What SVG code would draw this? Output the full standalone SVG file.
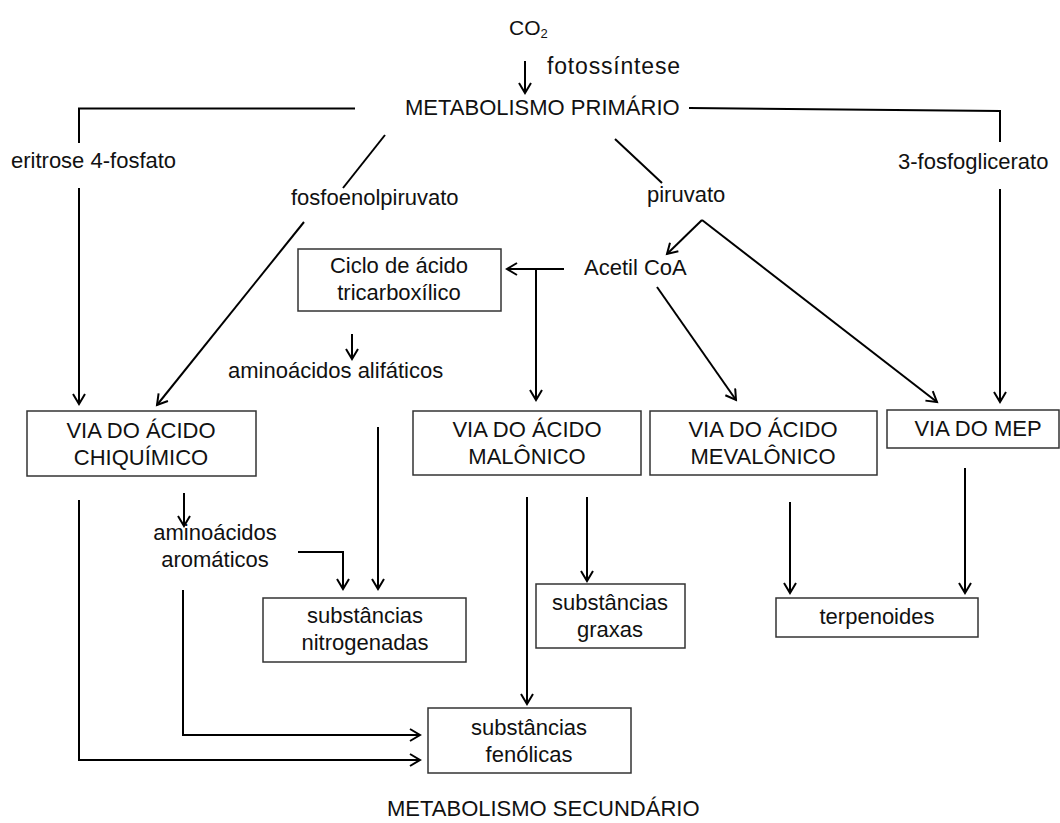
<svg xmlns="http://www.w3.org/2000/svg" width="1060" height="823" viewBox="0 0 1060 823">
<defs>
<marker id="ah" markerUnits="userSpaceOnUse" markerWidth="14" markerHeight="14" refX="11" refY="7" orient="auto">
<path d="M1,1 L11,7 L1,13" fill="none" stroke="#000" stroke-width="2"/>
</marker>
<style>
text{font-family:"Liberation Sans",Arial,sans-serif;font-size:22px;fill:#111}
.c{text-anchor:middle}
.box{fill:#fff;stroke:#333;stroke-width:1.5}
.ln{fill:none;stroke:#000;stroke-width:2}
.ar{fill:none;stroke:#000;stroke-width:2;marker-end:url(#ah)}
</style>
</defs>
<rect width="1060" height="823" fill="#fff"/>
<g id="connectors">
<line class="ar" x1="525" y1="61" x2="525" y2="93"/>
<polyline class="ln" points="355,108.5 79,108.5 79,143"/>
<line class="ar" x1="79" y1="188" x2="79" y2="404"/>
<polyline class="ln" points="689,108 1000,111 1000,142"/>
<line class="ar" x1="1000" y1="189" x2="1000" y2="402"/>
<line class="ln" x1="385" y1="135" x2="343" y2="188"/>
<line class="ar" x1="304" y1="222" x2="157" y2="405"/>
<line class="ln" x1="615" y1="139" x2="662" y2="183"/>
<line class="ar" x1="702" y1="220" x2="667" y2="254"/>
<line class="ar" x1="702" y1="220" x2="937" y2="402"/>
<line class="ar" x1="564" y1="269" x2="507" y2="269"/>
<line class="ar" x1="536" y1="269" x2="536" y2="400"/>
<line class="ar" x1="657" y1="287" x2="736" y2="400"/>
<line class="ar" x1="352" y1="334" x2="352" y2="359"/>
<line class="ar" x1="184" y1="493" x2="184" y2="526"/>
<polyline class="ar" points="298,552 343,552 343,589"/>
<line class="ar" x1="378" y1="427" x2="378" y2="589"/>
<polyline class="ar" points="79,500 79,760 420,760"/>
<polyline class="ar" points="183,590 183,735 420,735"/>
<line class="ar" x1="527" y1="497" x2="527" y2="704"/>
<line class="ar" x1="587" y1="497" x2="587" y2="581"/>
<line class="ar" x1="790" y1="502" x2="790" y2="593"/>
<line class="ar" x1="965" y1="468" x2="965" y2="593"/>
</g>
<g id="co2"><text x="509" y="35" style="font-size:21px">CO<tspan style="font-size:13px" dy="3">2</tspan></text></g>
<g id="fotossintese"><text x="547" y="74" style="font-size:23px" textLength="133" lengthAdjust="spacing">fotossíntese</text></g>
<g id="metabolismo-primario"><text x="405" y="115">METABOLISMO PRIMÁRIO</text></g>
<g id="eritrose"><text x="11" y="168">eritrose 4-fosfato</text></g>
<g id="fosfoglicerato"><text x="898" y="169">3-fosfoglicerato</text></g>
<g id="fosfoenolpiruvato"><text x="291" y="205">fosfoenolpiruvato</text></g>
<g id="piruvato"><text x="647" y="202">piruvato</text></g>
<g id="acetil"><text x="584" y="275">Acetil CoA</text></g>
<g id="ciclo"><rect class="box" x="298" y="249" width="203" height="62"/><text class="c" x="399" y="273">Ciclo de ácido</text><text class="c" x="399" y="300">tricarboxílico</text></g>
<g id="alifaticos"><text x="228" y="378">aminoácidos alifáticos</text></g>
<g id="chiquimico"><rect class="box" x="27" y="411" width="229" height="65"/><text class="c" x="141" y="438">VIA DO ÁCIDO</text><text class="c" x="141" y="465">CHIQUÍMICO</text></g>
<g id="malonico"><rect class="box" x="413" y="411" width="228" height="64"/><text class="c" x="527" y="437">VIA DO ÁCIDO</text><text class="c" x="527" y="464">MALÔNICO</text></g>
<g id="mevalonico"><rect class="box" x="650" y="411" width="227" height="64"/><text class="c" x="763" y="437">VIA DO ÁCIDO</text><text class="c" x="763" y="464">MEVALÔNICO</text></g>
<g id="mep"><rect class="box" x="887" y="410" width="172" height="38"/><text class="c" x="978" y="436">VIA DO MEP</text></g>
<g id="aromaticos"><text class="c" x="215" y="540">aminoácidos</text><text class="c" x="215" y="567">aromáticos</text></g>
<g id="nitrogenadas"><rect class="box" x="263" y="598" width="203" height="64"/><text class="c" x="365" y="623">substâncias</text><text class="c" x="365" y="650">nitrogenadas</text></g>
<g id="graxas"><rect class="box" x="536" y="584" width="149" height="64"/><text class="c" x="610" y="610">substâncias</text><text class="c" x="610" y="637">graxas</text></g>
<g id="terpenoides"><rect class="box" x="776" y="598" width="202" height="39"/><text class="c" x="877" y="624">terpenoides</text></g>
<g id="fenolicas"><rect class="box" x="428" y="708" width="203" height="65"/><text class="c" x="529" y="735">substâncias</text><text class="c" x="529" y="762">fenólicas</text></g>
<g id="metabolismo-secundario"><text x="387" y="816">METABOLISMO SECUNDÁRIO</text></g>
</svg>
